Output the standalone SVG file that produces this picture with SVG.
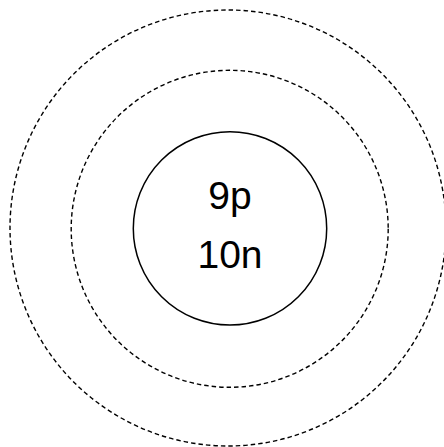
<svg xmlns="http://www.w3.org/2000/svg" width="444" height="447" viewBox="0 0 444 447">
<style>
.shell{fill:none;stroke:#000;stroke-width:1.4;stroke-dasharray:4.5 3}
.nuc{fill:#fff;stroke:#000;stroke-width:1.5}
.lbl{font-family:"Liberation Sans",Arial,sans-serif;font-size:39px;fill:#000;text-anchor:middle}
</style>
<rect width="444" height="447" fill="#fff"/>
<g id="shell2"><circle class="shell" cx="228" cy="228" r="218"/></g>
<g id="shell1"><circle class="shell" cx="229.7" cy="228.8" r="158.5"/></g>
<g id="nucleus">
<circle class="nuc" cx="230" cy="228.4" r="96.7"/>
<text class="lbl" x="230" y="209">9p</text>
<text class="lbl" x="230" y="268">10n</text>
</g>
</svg>
